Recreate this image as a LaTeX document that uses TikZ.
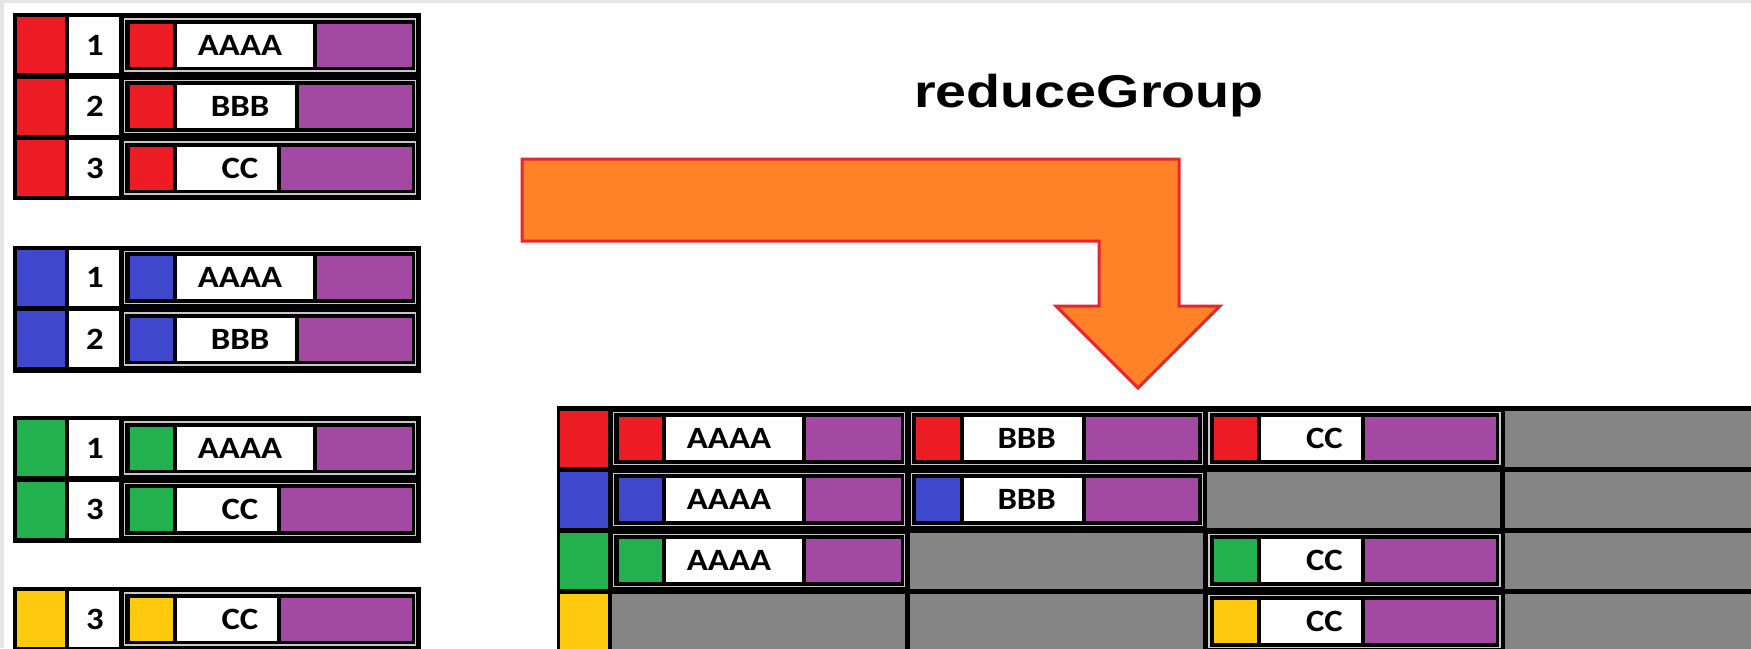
\documentclass[tikz,border=0pt]{standalone}
\usepackage{fontspec}
\setmainfont{Carlito}
\newfontfamily\titlefont{Liberation Sans}
\definecolor{cred}{HTML}{ED1C24}
\definecolor{cblue}{HTML}{3F48CC}
\definecolor{cgreen}{HTML}{22B14C}
\definecolor{cyellow}{HTML}{FFC90E}
\definecolor{cpurple}{HTML}{A349A4}
\definecolor{cgray}{HTML}{858585}
\definecolor{lline}{HTML}{C8C8C8}
\definecolor{corange}{HTML}{FF8229}
\definecolor{cedge}{HTML}{E6E6E6}
\definecolor{aline}{HTML}{E8262A}
\tikzset{
  cellbox/.style={draw=none, inner sep=0pt, outer sep=0pt, anchor=north west},
  lbl/.style={font=\fontsize{31}{31}\selectfont\bfseries, inner sep=0pt, text=black},
  innerline/.style={draw=lline, line width=1.3pt},
  arrowshape/.style={fill=corange, draw=aline, line width=3pt, line join=miter},
}
\newcommand\wide[1]{\scalebox{1.12}[1]{#1}}
% record: #1 name, #2 left, #3 top, #4 colour, #5 white width, #6 text
\newcommand\recrd[6]{%
  \pgfmathsetmacro\rL{#2}\pgfmathsetmacro\rT{#3}%
  \pgfmathsetmacro\pw{288.5-58-#5}%
  \fill[black] (\rL,\rT) rectangle ({\rL+294},{\rT+56});
  \draw[innerline] ({\rL+1.5},{\rT+2}) rectangle ({\rL+292.5},{\rT+54});
  \node[cellbox, fill=#4, minimum width=43.5pt, minimum height=43pt] (#1k) at ({\rL+6.5},{\rT+6.5}) {};
  \node[cellbox, fill=white, minimum width=#5pt, minimum height=43pt] (#1t) at ({\rL+54},{\rT+6.5}) {};
  \node[cellbox, fill=cpurple, minimum width=\pw pt, minimum height=43pt] (#1v) at ({\rL+58+#5},{\rT+6.5}) {};
  \node[lbl] (#1l) at ({\rL+117},{\rT+28}) {\wide{#6}};
}
% left row: #1 name, #2 top, #3 colour, #4 digit, #5 white width, #6 text
\newcommand\lrow[6]{%
  \pgfmathsetmacro\qT{#2}%
  \node[cellbox, fill=#3, minimum width=48pt, minimum height=56pt] (#1c) at (17,\qT) {};
  \node[cellbox, fill=white, minimum width=50pt, minimum height=56pt] (#1d) at (69,\qT) {};
  \node[lbl] (#1n) at (95,{\qT+28}) {\wide{#4}};
  \recrd{#1r}{123}{\qT}{#3}{#5}{#6}
}
\newcommand\grayc[3]{%
  \node[cellbox, fill=cgray, minimum width=293pt, minimum height=56.5pt] (#1) at (#2,#3) {};
}
\begin{document}
\begin{tikzpicture}[x=1pt,y=-1pt]
\useasboundingbox (0,0) rectangle (1751,648);
\clip (0,0) rectangle (1751,648);
\fill[white] (0,0) rectangle (1751,648);
\fill[cedge] (0,0) rectangle (1751,3);
\fill[cedge] (0,0) rectangle (4,648);

% ---- left blocks ----
\fill[black] (13,13) rectangle (421,200);
\lrow{ra}{17}{cred}{1}{136}{AAAA}
\lrow{rb}{78.5}{cred}{2}{118}{BBB}
\lrow{rc}{140}{cred}{3}{100}{CC}

\fill[black] (13,245.5) rectangle (421,372.5);
\lrow{ba}{249.5}{cblue}{1}{136}{AAAA}
\lrow{bb}{311}{cblue}{2}{118}{BBB}

\fill[black] (13,416) rectangle (421,543);
\lrow{ga}{420}{cgreen}{1}{136}{AAAA}
\lrow{gb}{481.5}{cgreen}{3}{100}{CC}

\fill[black] (13,587) rectangle (421,660);
\lrow{ya}{591}{cyellow}{3}{100}{CC}

% ---- title ----
\node[font=\titlefont\bfseries\fontsize{46}{46}\selectfont, anchor=base, inner sep=0pt] (title) at (1089,107) {\scalebox{1.21}[1]{reduceGroup}};

% ---- arrow ----
\draw[arrowshape] (522,159) -- (1179,159) -- (1179,306) -- (1220,306) -- (1138,388)
  -- (1056,306) -- (1099,306) -- (1099,241) -- (522,241) -- cycle;

% ---- result table ----
\fill[black] (557,406) rectangle (1760,660);
\node[cellbox, fill=cred, minimum width=48pt, minimum height=56.5pt] (k1) at (560,410.5) {};
\node[cellbox, fill=cblue, minimum width=48pt, minimum height=56.5pt] (k2) at (560,471.5) {};
\node[cellbox, fill=cgreen, minimum width=48pt, minimum height=56.5pt] (k3) at (560,532.5) {};
\node[cellbox, fill=cyellow, minimum width=48pt, minimum height=56.5pt] (k4) at (560,593.5) {};
% row 1
\recrd{t11}{612}{410.5}{cred}{136}{AAAA}
\recrd{t12}{909.7}{410.5}{cred}{118}{BBB}
\recrd{t13}{1207.4}{410.5}{cred}{100}{CC}
\grayc{t14}{1505}{410.5}
% row 2
\recrd{t21}{612}{471.5}{cblue}{136}{AAAA}
\recrd{t22}{909.7}{471.5}{cblue}{118}{BBB}
\grayc{t23}{1207.4}{471.5}
\grayc{t24}{1505}{471.5}
% row 3
\recrd{t31}{612}{532.5}{cgreen}{136}{AAAA}
\grayc{t32}{909.7}{532.5}
\recrd{t33}{1207.4}{532.5}{cgreen}{100}{CC}
\grayc{t34}{1505}{532.5}
% row 4
\grayc{t41}{612}{593.5}
\grayc{t42}{909.7}{593.5}
\recrd{t43}{1207.4}{593.5}{cyellow}{100}{CC}
\grayc{t44}{1505}{593.5}
\end{tikzpicture}
\end{document}
